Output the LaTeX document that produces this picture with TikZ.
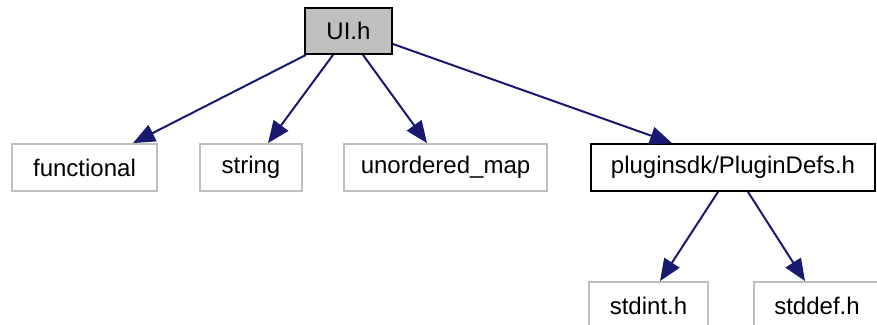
\documentclass[tikz,border=0pt]{standalone}
\usepackage{fontspec}
\setmainfont{Liberation Sans}
\usetikzlibrary{arrows.meta}
\definecolor{edgecol}{HTML}{191970}
\definecolor{greybd}{HTML}{BFBFBF}
\begin{document}
\begin{tikzpicture}[x=1pt,y=-1pt,
  every node/.style={font=\fontsize{24}{28}\selectfont, inner sep=0pt, anchor=center},
  filebox/.style={draw=greybd, line width=1.8pt, fill=white},
  mainbox/.style={draw=black, line width=1.8pt},
  dep/.style={draw=edgecol, line width=2pt, -{Triangle[length=22pt,width=18pt]}}]
\useasboundingbox (0,0) rectangle (877,324);
\node[mainbox, fill=greybd, minimum width=87pt, minimum height=46pt] (ui) at (348.5,31) {UI.h};
\node[filebox, minimum width=145pt, minimum height=47pt] (fun) at (84.5,167.5) {functional};
\node[filebox, minimum width=102pt, minimum height=47pt] (str) at (251,167.5) {string};
\node[filebox, minimum width=203pt, minimum height=47pt] (umap) at (445.5,167.5) {unordered\_map};
\node[mainbox, fill=white, minimum width=284pt, minimum height=47pt] (pdef) at (733,167.5) {pluginsdk/PluginDefs.h};
\node[filebox, minimum width=119pt, minimum height=47pt] (sint) at (648.5,305.5) {stdint.h};
\node[filebox, minimum width=126pt, minimum height=47pt] (sdef) at (817,305.5) {stddef.h};
\draw[dep] ([xshift=-42.5pt]ui.south) -- ([xshift=48.5pt]fun.north);
\draw[dep] ([xshift=-15.5pt]ui.south) -- ([xshift=17pt]str.north);
\draw[dep] ([xshift=14.5pt]ui.south) -- ([xshift=-18.5pt]umap.north);
\draw[dep] ([yshift=-13pt]ui.east) -- ([xshift=-61pt]pdef.north);
\draw[dep] ([xshift=-15pt]pdef.south) -- ([xshift=11.5pt]sint.north);
\draw[dep] ([xshift=15pt]pdef.south) -- ([xshift=-12pt]sdef.north);
\end{tikzpicture}
\end{document}
